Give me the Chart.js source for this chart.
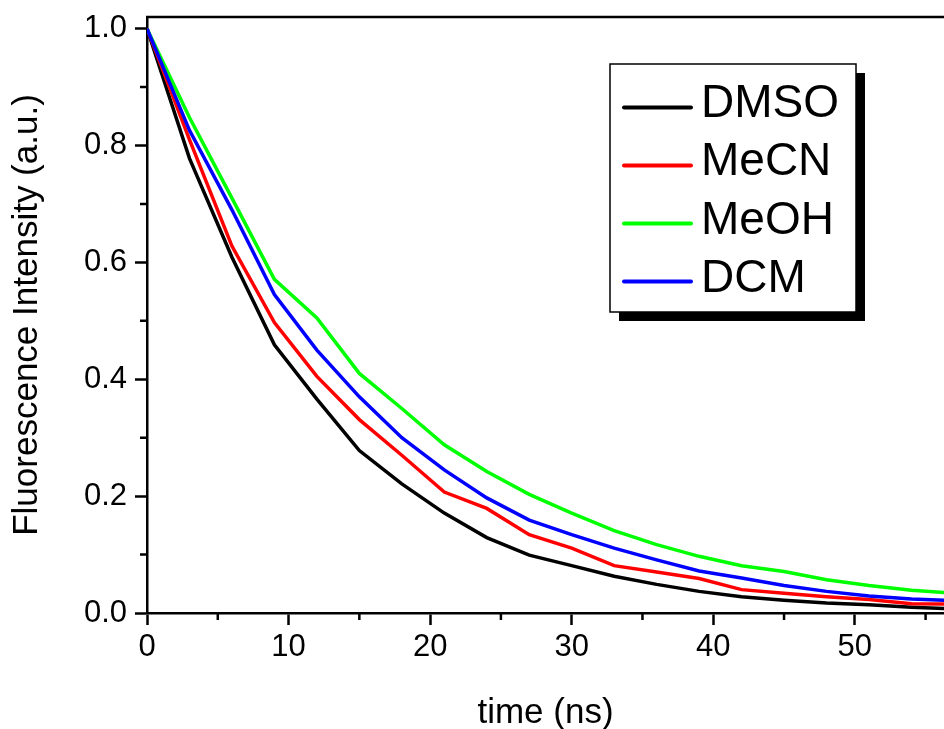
<html>
<head>
<script src="https://cdn.jsdelivr.net/npm/chart.js"></script>
</head>
<body style="margin:0;background:#fff">
<canvas id="myChart" width="944" height="729"></canvas>
<script>
  // decay curves, one point every 3 ns
  const times = [0, 3, 6, 9, 12, 15, 18, 21, 24, 27, 30, 33, 36, 39, 42, 45, 48, 51, 54, 57];
  const dmso = [1.0, 0.778, 0.609, 0.459, 0.366, 0.278, 0.221, 0.171, 0.129, 0.099, 0.081, 0.063, 0.049, 0.037, 0.028, 0.022, 0.017, 0.014, 0.010, 0.007];
  const mecn = [1.0, 0.81, 0.628, 0.497, 0.405, 0.331, 0.270, 0.207, 0.179, 0.134, 0.111, 0.081, 0.070, 0.059, 0.040, 0.034, 0.028, 0.023, 0.016, 0.015];
  const meoh = [1.0, 0.848, 0.710, 0.571, 0.505, 0.410, 0.350, 0.288, 0.242, 0.203, 0.171, 0.141, 0.117, 0.097, 0.081, 0.071, 0.057, 0.047, 0.039, 0.034];
  const dcm  = [1.0, 0.826, 0.690, 0.545, 0.450, 0.370, 0.300, 0.245, 0.197, 0.159, 0.134, 0.111, 0.091, 0.072, 0.060, 0.047, 0.037, 0.029, 0.024, 0.021];

  const labels = ['DMSO', 'MeCN', 'MeOH', 'DCM'];
  const colors = ['#000000', '#ff0000', '#00ff00', '#0000ff'];
  const series = [dmso, mecn, meoh, dcm];

  const xMinor = [5, 15, 25, 35, 45, 55];
  const yMinor = [0.1, 0.3, 0.5, 0.7, 0.9];

  const FONT = "'Liberation Sans', Arial, sans-serif";

  // minor ticks + top frame line
  const framePlugin = {
    id: 'frame',
    afterDraw(chart) {
      const ctx = chart.ctx;
      const a = chart.chartArea;
      const xs = chart.scales.x, ys = chart.scales.y;
      ctx.save();
      ctx.strokeStyle = '#000';
      ctx.lineWidth = 2.5;
      ctx.beginPath();
      ctx.moveTo(a.left - 1, a.top);
      ctx.lineTo(a.right, a.top);
      xMinor.forEach(v => {
        const px = xs.getPixelForValue(v);
        ctx.moveTo(px, a.bottom);
        ctx.lineTo(px, a.bottom + 7);
      });
      yMinor.forEach(v => {
        const py = ys.getPixelForValue(v);
        ctx.moveTo(a.left, py);
        ctx.lineTo(a.left - 7, py);
      });
      ctx.stroke();
      ctx.restore();
    }
  };

  // boxed legend with drop shadow, like the Origin one
  const legendPlugin = {
    id: 'boxLegend',
    afterDraw(chart) {
      const ctx = chart.ctx;
      const bx = 610, by = 64, bw = 246, bh = 248;
      ctx.save();
      ctx.fillStyle = '#000';
      ctx.fillRect(bx + 9, by + 9, bw, bh);
      ctx.fillStyle = '#fff';
      ctx.fillRect(bx, by, bw, bh);
      ctx.strokeStyle = '#000';
      ctx.lineWidth = 1.5;
      ctx.strokeRect(bx, by, bw, bh);
      ctx.font = '46px ' + FONT;
      ctx.textBaseline = 'alphabetic';
      chart.data.datasets.forEach((ds, i) => {
        const ly = 107.5 + i * 58;
        ctx.strokeStyle = ds.borderColor;
        ctx.lineWidth = 4;
        ctx.lineCap = 'round';
        ctx.beginPath();
        ctx.moveTo(624, ly);
        ctx.lineTo(691, ly);
        ctx.stroke();
        ctx.fillStyle = '#000';
        ctx.fillText(ds.label, 701, 117 + i * 58.3);
      });
      ctx.restore();
    }
  };

  const ctx = document.getElementById('myChart').getContext('2d');
  const myChart = new Chart(ctx, {
    type: 'line',
    data: {
      datasets: series.map((s, i) => ({
        label: labels[i],
        data: times.map((t, j) => ({ x: t, y: s[j] })),
        borderColor: colors[i],
        backgroundColor: colors[i],
        borderWidth: 3.5,
        pointRadius: 0,
        tension: 0,
        fill: false,
        order: series.length - i
      }))
    },
    options: {
      responsive: false,
      animation: false,
      layout: { padding: { top: 17, right: 0, left: 0, bottom: 0 } },
      plugins: { legend: { display: false }, tooltip: { enabled: false } },
      scales: {
        x: {
          type: 'linear',
          min: 0,
          max: 56.3,
          afterFit: s => { s.height = 116; s.paddingLeft = 0; s.paddingRight = 0; },
          grid: { drawOnChartArea: false, tickLength: 12, tickWidth: 2.5, tickColor: '#000' },
          border: { display: true, color: '#000', width: 2.5 },
          ticks: {
            stepSize: 10,
            includeBounds: false,
            padding: 4,
            color: '#000',
            font: { family: FONT, size: 31 },
            maxRotation: 0
          },
          title: {
            display: true,
            text: 'time (ns)',
            color: '#000',
            font: { family: FONT, size: 35 },
            padding: { top: 0, bottom: -5 }
          }
        },
        y: {
          min: 0,
          max: 1.02,
          afterFit: s => { s.width = 147; s.paddingTop = 0; s.paddingBottom = 0; },
          grid: { drawOnChartArea: false, tickLength: 12, tickWidth: 2.5, tickColor: '#000' },
          border: { display: true, color: '#000', width: 2.5 },
          ticks: {
            stepSize: 0.2,
            includeBounds: false,
            padding: 8,
            color: '#000',
            font: { family: FONT, size: 31 },
            callback: v => v.toFixed(1)
          },
          title: {
            display: true,
            text: 'Fluorescence Intensity (a.u.)',
            color: '#000',
            font: { family: FONT, size: 35 },
            padding: { top: 6, bottom: 0 }
          }
        }
      }
    },
    plugins: [framePlugin, legendPlugin]
  });
</script>
</body>
</html>
